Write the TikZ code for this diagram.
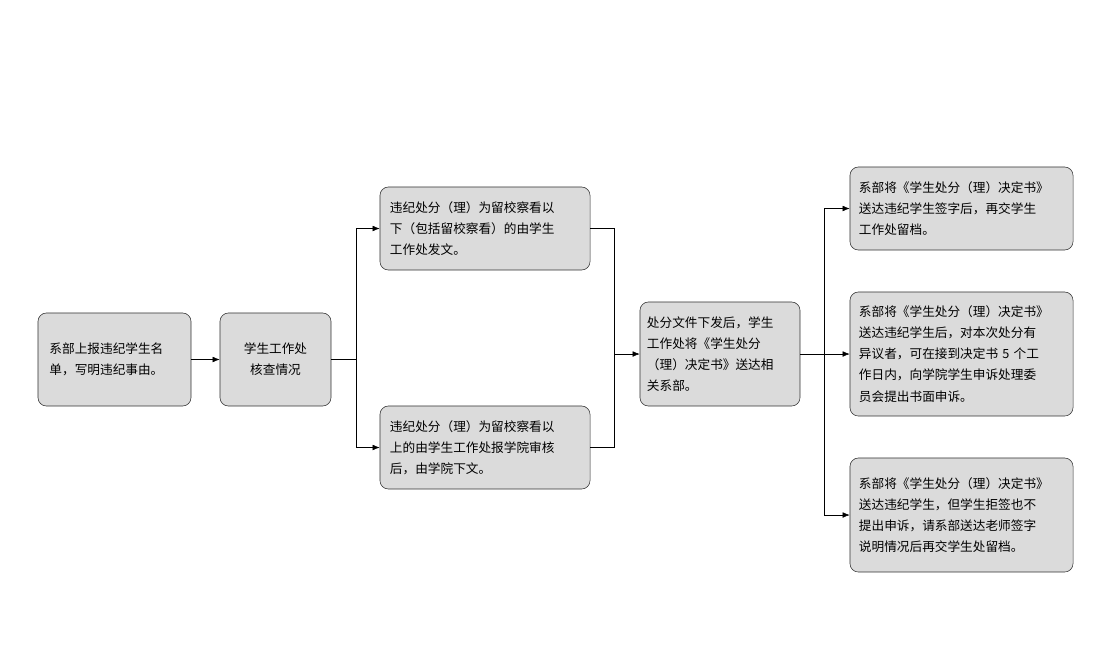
\documentclass[tikz,border=0pt]{standalone}
\usepackage{fontspec}
\setmainfont{Noto Sans CJK SC}
\usetikzlibrary{arrows.meta, positioning, calc}

\begin{document}
\begin{tikzpicture}[
    x=0.025cm, y=-0.025cm,
    % process box style
    procbox/.style={
        rectangle,
        rounded corners=6pt,
        draw=black!80,
        fill=gray!28,
        inner sep=0pt,
        font=\fontsize{9pt}{15pt}\selectfont,
        align=left
    },
    arrow/.style={
        -{Latex[length=5pt,width=4pt]},
        black
    },
    line/.style={black}
]
\useasboundingbox (0,0) rectangle (1120,667);

% === Left column ===
\node[procbox, text width=3.25cm, minimum width=3.825cm, minimum height=2.325cm] (report) at (114.5,359.5) {系部上报违纪学生名\\单，写明违纪事由。};
\node[procbox, align=center, minimum width=2.775cm, minimum height=2.325cm] (check) at (275.5,359.5) {学生工作处\\核查情况};

% === Middle branches ===
\node[procbox, text width=4.75cm, minimum width=5.25cm, minimum height=2.075cm] (below) at (485,228.5) {违纪处分（理）为留校察看以\\下（包括留校察看）的由学生\\工作处发文。};
\node[procbox, text width=4.75cm, minimum width=5.25cm, minimum height=2.075cm] (above) at (485,447.5) {违纪处分（理）为留校察看以\\上的由学生工作处报学院审核\\后，由学院下文。};

% === Issue ===
\node[procbox, text width=3.65cm, minimum width=4cm, minimum height=2.6cm] (issue) at (720,354) {处分文件下发后，学生\\工作处将《学生处分\\（理）决定书》送达相\\关系部。};

% === Right column ===
\node[procbox, text width=5.125cm, minimum width=5.575cm, minimum height=2.075cm] (sign) at (961.5,208.5) {系部将《学生处分（理）决定书》\\送达违纪学生签字后，再交学生\\工作处留档。};
\node[procbox, text width=5.125cm, minimum width=5.575cm, minimum height=3.1cm] (appeal) at (961.5,354) {系部将《学生处分（理）决定书》\\送达违纪学生后，对本次处分有\\异议者，可在接到决定书~5~个工\\作日内，向学院学生申诉处理委\\员会提出书面申诉。};
\node[procbox, text width=5.125cm, minimum width=5.575cm, minimum height=2.85cm] (refuse) at (961.5,515) {系部将《学生处分（理）决定书》\\送达违纪学生，但学生拒签也不\\提出申诉，请系部送达老师签字\\说明情况后再交学生处留档。};

% === Connectors ===
\draw[arrow] (report) -- (check);
\coordinate (split) at (356,359.5);
\draw[line] (check) -- (split);
\draw[arrow] (split) |- (below);
\draw[arrow] (split) |- (above);

\coordinate (join) at (614,354);
\draw[line] (below.east) -| (join);
\draw[line] (above.east) -| (join);
\draw[arrow] (join) -- (issue);

\coordinate (fan) at (824,354);
\draw[line] (issue) -- (fan);
\draw[arrow] (fan) |- (sign);
\draw[arrow] (fan) -- (appeal);
\draw[arrow] (fan) |- (refuse);

\end{tikzpicture}
\end{document}
